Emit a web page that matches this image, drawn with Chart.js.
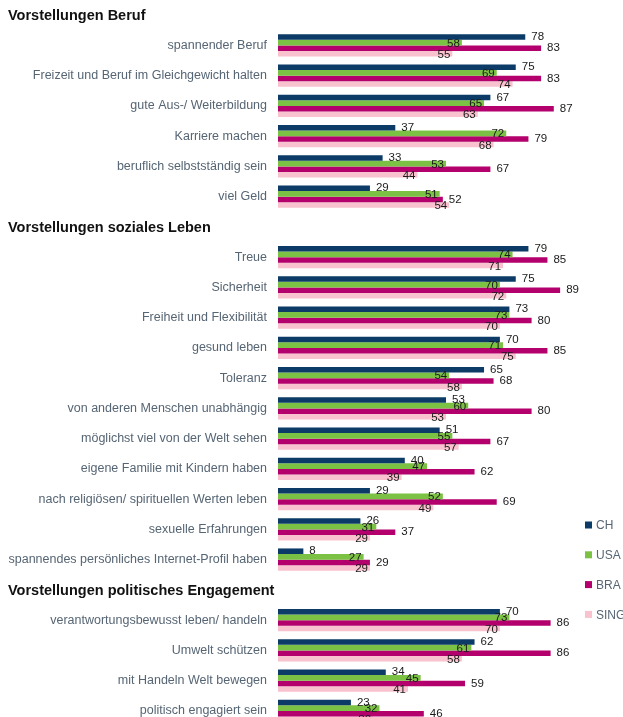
<!DOCTYPE html>
<html>
<head>
<meta charset="utf-8">
<script src="https://cdn.jsdelivr.net/npm/chart.js@4.4.1/dist/chart.umd.min.js"></script>
<style>
  html, body { margin: 0; padding: 0; background: #fff; overflow: hidden; }
  #wrap { width: 623px; height: 726px; }
</style>
</head>
<body>
<div id="wrap"><canvas id="chart" width="623" height="726"></canvas></div>
<script>
// sections
const sectionTitles = ['Vorstellungen Beruf', 'Vorstellungen soziales Leben', 'Vorstellungen politisches Engagement'];

const berufLabels = ['spannender Beruf', 'Freizeit und Beruf im Gleichgewicht halten', 'gute Aus-/ Weiterbildung',
    'Karriere machen', 'beruflich selbstständig sein', 'viel Geld'];
const berufCH   = [78, 75, 67, 37, 33, 29];
const berufUSA  = [58, 69, 65, 72, 53, 51];
const berufBRA  = [83, 83, 87, 79, 67, 52];
const berufSING = [55, 74, 63, 68, 44, 54];

const sozialLabels = ['Treue', 'Sicherheit', 'Freiheit und Flexibilität', 'gesund leben', 'Toleranz',
    'von anderen Menschen unabhängig', 'möglichst viel von der Welt sehen', 'eigene Familie mit Kindern haben',
    'nach religiösen/ spirituellen Werten leben', 'sexuelle Erfahrungen', 'spannendes persönliches Internet-Profil haben'];
const sozialCH   = [79, 75, 73, 70, 65, 53, 51, 40, 29, 26, 8];
const sozialUSA  = [74, 70, 73, 71, 54, 60, 55, 47, 52, 31, 27];
const sozialBRA  = [85, 89, 80, 85, 68, 80, 67, 62, 69, 37, 29];
const sozialSING = [71, 72, 70, 75, 58, 53, 57, 39, 49, 29, 29];

const politikLabels = ['verantwortungsbewusst leben/ handeln', 'Umwelt schützen', 'mit Handeln Welt bewegen', 'politisch engagiert sein'];
const politikCH   = [70, 62, 34, 23];
const politikUSA  = [73, 61, 45, 32];
const politikBRA  = [86, 86, 59, 46];
const politikSING = [70, 58, 41, 30];

const seriesNames = ['CH', 'USA', 'BRA', 'SING'];
const seriesColors = ['#0b3b66', '#7bc143', '#b3006d', '#f8c2ce'];

// each section gets an empty slot on top for its heading
function withHeader(arr, blank) {
    return [blank].concat(arr);
}

const labels = [].concat(withHeader(berufLabels, ''), withHeader(sozialLabels, ''), withHeader(politikLabels, ''));
const headerRows = [0, berufLabels.length + 1, berufLabels.length + sozialLabels.length + 2];

const seriesData = [
    [].concat(withHeader(berufCH, null), withHeader(sozialCH, null), withHeader(politikCH, null)),
    [].concat(withHeader(berufUSA, null), withHeader(sozialUSA, null), withHeader(politikUSA, null)),
    [].concat(withHeader(berufBRA, null), withHeader(sozialBRA, null), withHeader(politikBRA, null)),
    [].concat(withHeader(berufSING, null), withHeader(sozialSING, null), withHeader(politikSING, null)),
];

const FONT = "'Liberation Sans', Arial, sans-serif";
const GREY = '#566574';

// headings, value labels and legend
const extras = {
    id: 'extras',
    afterDatasetsDraw(chart) {
        const ctx = chart.ctx;
        const yScale = chart.scales.y;
        ctx.save();

        // section headings
        ctx.fillStyle = '#111';
        ctx.font = 'bold 14.5px ' + FONT;
        ctx.textAlign = 'left';
        ctx.textBaseline = 'middle';
        headerRows.forEach((row, i) => {
            ctx.fillText(sectionTitles[i], 8, yScale.getPixelForValue(row) + 1);
        });

        // value labels
        ctx.font = '11.5px ' + FONT;
        ctx.fillStyle = '#1a1a1a';
        chart.data.datasets.forEach((ds, di) => {
            const meta = chart.getDatasetMeta(di);
            meta.data.forEach((bar, i) => {
                if (ds.data[i] == null) return;
                if (di === 0 || di === 2) {
                    ctx.textAlign = 'left';
                    ctx.fillText(ds.data[i], bar.x + 6, bar.y);
                } else {
                    ctx.textAlign = 'right';
                    ctx.fillText(ds.data[i], bar.x - 2, bar.y + 1);
                }
            });
        });

        // legend
        ctx.font = '12px ' + FONT;
        ctx.textAlign = 'left';
        seriesNames.forEach((name, i) => {
            const y = 525 + i * 29.8;
            ctx.fillStyle = seriesColors[i];
            ctx.fillRect(585, y - 3.5, 7, 7);
            ctx.fillStyle = GREY;
            ctx.fillText(name, 596, y + 1);
        });

        ctx.restore();
    }
};

new Chart(document.getElementById('chart'), {
    type: 'bar',
    data: {
        labels: labels,
        datasets: seriesNames.map((name, i) => ({
            label: name,
            data: seriesData[i],
            backgroundColor: seriesColors[i],
            borderWidth: 0,
            categoryPercentage: 0.74,
            barPercentage: 1.0,
        })),
    },
    options: {
        indexAxis: 'y',
        responsive: false,
        animation: false,
        devicePixelRatio: 1,
        layout: { padding: { top: 0, right: 28, bottom: 0, left: 0 } },
        plugins: {
            legend: { display: false },
            tooltip: { enabled: false },
        },
        scales: {
            x: {
                min: 0,
                max: 100,
                display: false,
            },
            y: {
                grid: { display: false, drawTicks: false },
                border: { display: false },
                ticks: {
                    color: GREY,
                    font: { family: FONT, size: 12.5 },
                    padding: 11,
                    autoSkip: false,
                },
                afterFit(scale) {
                    scale.width = 278;
                    scale.paddingTop = 0;
                    scale.paddingBottom = 0;
                },
            },
        },
    },
    plugins: [extras],
});
</script>
</body>
</html>
